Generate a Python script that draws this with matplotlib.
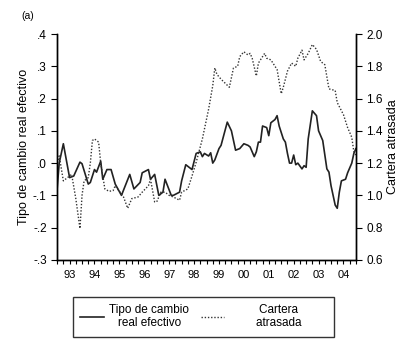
import numpy as np
import matplotlib
matplotlib.use("Agg")
import matplotlib.pyplot as plt
from matplotlib.ticker import FixedLocator, FuncFormatter

plt.rcParams['font.family'] = ['Liberation Sans', 'DejaVu Sans']

# --- Data (months counted from 1993:01) ---
reer_month = [0, 1, 3, 6, 8, 11, 12, 15, 16, 18, 19, 21, 22, 24, 26, 28, 31, 35,
              37, 40, 41, 44, 45, 47, 49, 51, 52, 55, 56, 59, 60, 62, 63, 65, 67,
              69, 70, 71, 73, 74, 75, 76, 78, 79, 82, 84, 86, 88, 90, 92, 93, 95,
              96, 97, 98, 99, 101, 102, 103, 105, 106, 107, 109, 110, 111, 112,
              113, 114, 115, 116, 118, 119, 120, 121, 123, 125, 126, 128, 130,
              131, 132, 134, 135, 136, 137, 139, 140, 142, 143, 144]
reer_value = [-0.08, 0.0, 0.06, -0.045, -0.04, 0.003, -0.002, -0.065, -0.06, -0.02,
              -0.028, 0.006, -0.05, -0.02, -0.02, -0.065, -0.1, -0.035, -0.08,
              -0.06, -0.03, -0.02, -0.05, -0.035, -0.1, -0.09, -0.05, -0.1, -0.1,
              -0.09, -0.055, -0.005, -0.01, -0.02, 0.03, 0.035, 0.02, 0.03, 0.022,
              0.032, 0.0, 0.01, 0.045, 0.055, 0.127, 0.1, 0.04, 0.045, 0.06, 0.055,
              0.05, 0.02, 0.035, 0.065, 0.065, 0.115, 0.11, 0.085, 0.125, 0.135,
              0.147, 0.115, 0.075, 0.065, 0.03, 0.0, 0.0, 0.025, -0.005, 0.0,
              -0.018, -0.008, -0.013, 0.075, 0.162, 0.147, 0.1, 0.07, -0.018,
              -0.028, -0.07, -0.13, -0.14, -0.09, -0.055, -0.05, -0.03, 0.0, 0.03,
              0.045]

arrears_month = [0, 1, 3, 5, 7, 9, 11, 12, 13, 15, 16, 17, 18, 20, 21, 23, 25, 27,
                 28, 32, 34, 36, 39, 41, 44, 45, 47, 48, 50, 52, 54, 56, 59, 60, 63,
                 65, 67, 70, 73, 75, 76, 77, 79, 83, 85, 87, 88, 90, 92, 93, 94, 96,
                 97, 100, 101, 103, 106, 108, 109, 111, 113, 115, 116, 118, 119,
                 121, 123, 125, 127, 129, 131, 134, 135, 138, 140, 142, 143, 144]
arrears_value = [1.2, 1.245, 1.09, 1.11, 1.13, 0.98, 0.795, 1.0, 1.09, 1.11, 1.2,
                 1.34, 1.35, 1.33, 1.2, 1.04, 1.025, 1.03, 1.06, 0.99, 0.92, 0.98,
                 0.99, 1.02, 1.06, 1.1, 0.96, 0.96, 1.02, 1.02, 1.0, 0.99, 0.97,
                 1.02, 1.04, 1.12, 1.205, 1.35, 1.534, 1.68, 1.79, 1.75, 1.72, 1.67,
                 1.79, 1.8, 1.86, 1.89, 1.87, 1.88, 1.85, 1.74, 1.82, 1.88, 1.85,
                 1.84, 1.78, 1.63, 1.67, 1.77, 1.82, 1.8, 1.85, 1.9, 1.84, 1.88,
                 1.935, 1.905, 1.83, 1.81, 1.66, 1.65, 1.575, 1.5, 1.42, 1.36, 1.27,
                 1.25]

years = list(range(1993, 2005))

# --- Plot ---
fig = plt.figure(figsize=(4.11, 3.62), dpi=100)
ax = fig.add_axes([0.139, 0.282, 0.727, 0.624])
ax2 = ax.twinx()

t_reer = 1993 + np.array(reer_month) / 12.0
t_arr = 1993 + np.array(arrears_month) / 12.0

l1, = ax.plot(t_reer, reer_value, color='#222222', lw=1.2, ls='-')
l2, = ax2.plot(t_arr, arrears_value, color='#333333', lw=1.0, ls=(0, (1, 1.3)))

ax.set_xlim(1993, 2005)
ax.set_ylim(-0.3, 0.4)
ax2.set_ylim(0.6, 2.0)

for a in (ax, ax2):
    a.spines['top'].set_visible(False)
    for s in a.spines.values():
        s.set_linewidth(1.0)

# quarterly ticks, year labels centred between
ax.xaxis.remove_overlapping_locs = False
ax.xaxis.set_major_locator(FixedLocator(np.arange(1993, 2005.01, 0.25)))
ax.set_xticklabels([])
ax.xaxis.set_minor_locator(FixedLocator([y + 0.5 for y in years]))
ax.xaxis.set_minor_formatter(FuncFormatter(lambda v, p: f"{int(v) % 100:02d}"))
ax.tick_params(axis='x', which='major', length=3, direction='out', width=0.8)
ax.tick_params(axis='x', which='minor', length=0, labelsize=8, pad=7)

ax.set_yticks(np.arange(-0.3, 0.41, 0.1))
ax.yaxis.set_major_formatter(FuncFormatter(
    lambda v, p: ("-" if v < -1e-9 else "") + f"{abs(v):.1f}".lstrip("0")))
ax.tick_params(axis='y', length=4, labelsize=8.5)
ax.set_ylabel('Tipo de cambio real efectivo', fontsize=9, labelpad=2)

ax2.set_yticks(np.arange(0.6, 2.01, 0.2))
ax2.yaxis.set_major_formatter(FuncFormatter(lambda v, p: f"{v:.1f}"))
ax2.tick_params(axis='y', length=4, labelsize=8.5)
ax2.set_ylabel('Cartera atrasada', fontsize=9, labelpad=3)

fig.text(0.052, 0.955, '(a)', fontsize=7.5, ha='left', va='center')

pad = " " * 8
leg = fig.legend([l1, l2],
                 ['Tipo de cambio\nreal efectivo',
                  pad + 'Cartera' + pad + '\n' + pad + 'atrasada' + pad],
                 ncol=2, loc='center', bbox_to_anchor=(0.178, 0.066, 0.635, 0.119),
                 mode='expand', fontsize=8.5, frameon=True, fancybox=False,
                 handlelength=2.0, handletextpad=0.45, borderaxespad=0.0,
                 borderpad=0.6, labelspacing=0.3, columnspacing=0.6)
leg.get_frame().set_edgecolor('black')
leg.get_frame().set_linewidth(1.0)
for txt in leg.get_texts():
    txt.set_multialignment('center')

fig.savefig('out.png', dpi=100)
